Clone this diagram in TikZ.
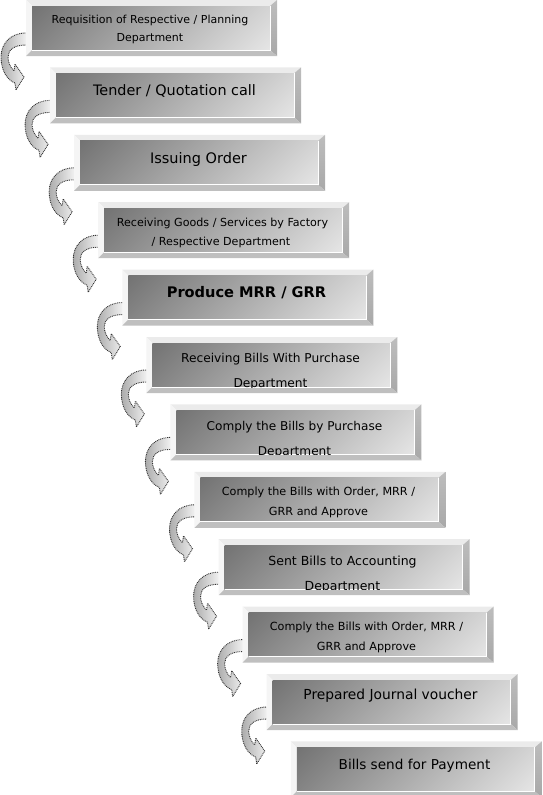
\documentclass[tikz,border=0pt]{standalone}
\usepackage{fontspec}
\setmainfont{DejaVu Sans}
\usetikzlibrary{backgrounds}
\definecolor{facedark}{gray}{0.45}
\definecolor{facelight}{gray}{0.90}
\definecolor{bvtopc}{gray}{0.92}
\definecolor{bvleftc}{gray}{0.96}
\definecolor{bvbotc}{gray}{0.75}
\pgfdeclareverticalshading{facesh}{100bp}{color(0bp)=(facelight); color(14.6bp)=(facelight); color(85.4bp)=(facedark); color(100bp)=(facedark)}
\newcommand{\fs}[1]{\fontsize{#1pt}{#1pt}\selectfont}
\tikzset{
  outerbox/.style={minimum width=251pt, minimum height=56pt, inner sep=0pt, outer sep=0pt},
  facebox/.style={minimum width=238pt, minimum height=44pt, inner sep=0pt, outer sep=0pt,
    shading=facesh, shading angle=45},
  flowarrow/.style={draw=black!80, line width=0.9pt, dash pattern=on 0.9pt off 0.9pt,
    left color=gray!65, right color=gray!5},
  lbl/.style={anchor=base, inner sep=0pt, text=black},
}
% #1 name, #2 left, #3 top, #4 labels
\newcommand{\bevbox}[4]{%
  \node[outerbox] (#1) at (#2+125.5,#3+28) {};
  \fill[bvtopc] (#2,#3) -- (#2+251,#3) -- (#2+244,#3+6) -- (#2+6,#3+6) -- cycle;
  \fill[bvleftc] (#2,#3) -- (#2+6,#3+6) -- (#2+6,#3+50) -- (#2,#3+56) -- cycle;
  \shade[top color=gray!52, bottom color=gray!68] (#2+251,#3) -- (#2+251,#3+56) -- (#2+244,#3+50) -- (#2+244,#3+6) -- cycle;
  \fill[bvbotc] (#2,#3+56) -- (#2+251,#3+56) -- (#2+244,#3+50) -- (#2+6,#3+50) -- cycle;
  \node[facebox] (#1f) at (#2+125,#3+28) {};
  \draw[white, line width=0.7pt] (#1f.south west) -- (#1f.south east) -- (#1f.north east);
  \begin{scope}
    \clip (#1f.south west) rectangle (#1f.north east);
    #4
  \end{scope}
}
\begin{document}
\begin{tikzpicture}[x=1pt, y=-1pt]
\useasboundingbox (0,0) rectangle (543,795);

\bevbox{b1}{26}{0}{%
  \node[lbl, font=\fs{11}] (t1a) at (150,23.3) {Requisition of Respective / Planning};
  \node[lbl, font=\fs{11}] (t1b) at (150,41.7) {Department};}
\bevbox{b2}{50.07}{67.4}{%
  \node[lbl, font=\fs{14.4}] (t2) at (174.5,95) {Tender / Quotation call};}
\bevbox{b3}{74.14}{134.8}{%
  \node[lbl, font=\fs{14.5}] (t3) at (198.5,163.3) {Issuing Order};}
\bevbox{b4}{98.21}{202.2}{%
  \node[lbl, font=\fs{11.1}] (t4a) at (222.5,226.7) {Receiving Goods / Services by Factory};
  \node[lbl, font=\fs{11.1}] (t4b) at (221,245) {/ Respective Department};}
\bevbox{b5}{122.28}{269.6}{%
  \node[lbl, font=\fs{14.6}\bfseries] (t5) at (246.5,297.5) {Produce MRR / GRR};}
\bevbox{b6}{146.35}{337}{%
  \node[lbl, font=\fs{12.2}] (t6a) at (270.5,362.7) {Receiving Bills With Purchase};
  \node[lbl, font=\fs{12.2}] (t6b) at (270.5,387.8) {Department};}
\bevbox{b7}{170.42}{404.4}{%
  \node[lbl, font=\fs{12.1}] (t7a) at (294.5,430) {Comply the Bills by Purchase};
  \node[lbl, font=\fs{12.1}] (t7b) at (294.5,455.2) {Department};}
\bevbox{b8}{194.49}{471.8}{%
  \node[lbl, font=\fs{11.2}] (t8a) at (318.5,495) {Comply the Bills with Order, MRR /};
  \node[lbl, font=\fs{11.2}] (t8b) at (318.5,515) {GRR and Approve};}
\bevbox{b9}{218.56}{539.2}{%
  \node[lbl, font=\fs{12.5}] (t9a) at (342.5,565) {Sent Bills to Accounting};
  \node[lbl, font=\fs{12.5}] (t9b) at (342.5,590) {Department};}
\bevbox{b10}{242.63}{606.6}{%
  \node[lbl, font=\fs{11.2}] (t10a) at (366.5,630) {Comply the Bills with Order, MRR /};
  \node[lbl, font=\fs{11.2}] (t10b) at (366.5,650) {GRR and Approve};}
\bevbox{b11}{266.7}{674}{%
  \node[lbl, font=\fs{13.8}] (t11) at (390.5,699.5) {Prepared Journal voucher};}
\bevbox{b12}{290.77}{741.4}{%
  \node[lbl, font=\fs{13.6}] (t12) at (414.5,769.3) {Bills send for Payment};}

\begin{scope}[on background layer]
\foreach \b in {b1,b2,b3,b4,b5,b6,b7,b8,b9,b10,b11}{
  \path[flowarrow, shift={(\b.north west)}]
    (3,33) -- (0,33) .. controls (-16,33) and (-25,44) .. (-25,57)
    .. controls (-25,70) and (-19,80) .. (-11,83) -- (-10,90) -- (-2,77) -- (-11,64)
    -- (-12,71) .. controls (-16,67) and (-18,62) .. (-18,57)
    .. controls (-18,50) and (-12,45) .. (0,45) -- (3,45) -- cycle;
}
\end{scope}
\end{tikzpicture}
\end{document}
